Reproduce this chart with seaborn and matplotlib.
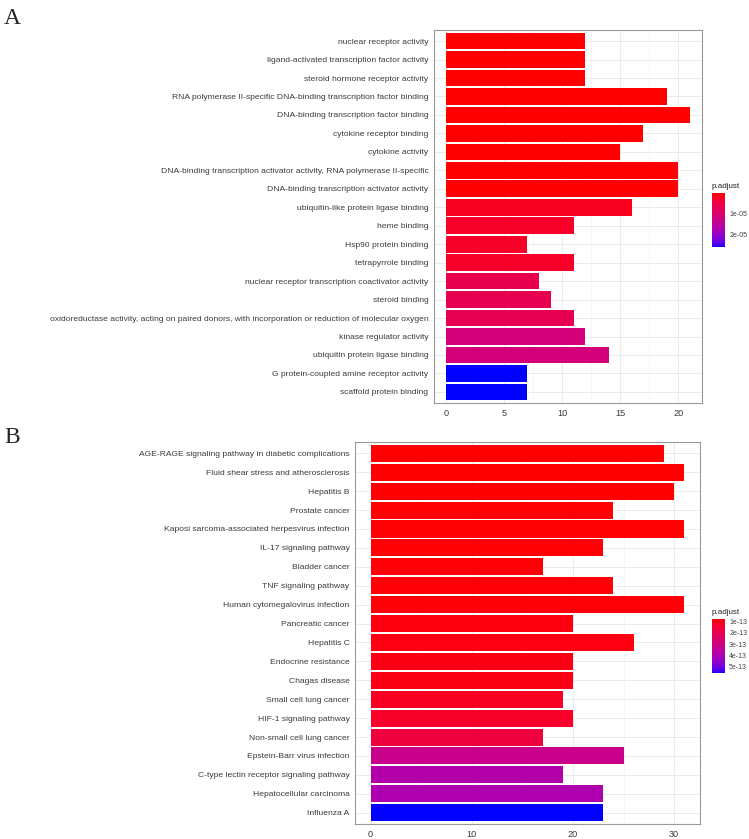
import matplotlib
matplotlib.use("Agg")
import matplotlib.pyplot as plt
import matplotlib.colors as mcolors
import matplotlib.cm as cm
from matplotlib.ticker import MultipleLocator
import seaborn as sns
import pandas as pd
import numpy as np

# GO terms (panel A)
go_terms = [
    "nuclear receptor activity",
    "ligand-activated transcription factor activity",
    "steroid hormone receptor activity",
    "RNA polymerase II-specific DNA-binding transcription factor binding",
    "DNA-binding transcription factor binding",
    "cytokine receptor binding",
    "cytokine activity",
    "DNA-binding transcription activator activity, RNA polymerase II-specific",
    "DNA-binding transcription activator activity",
    "ubiquitin-like protein ligase binding",
    "heme binding",
    "Hsp90 protein binding",
    "tetrapyrrole binding",
    "nuclear receptor transcription coactivator activity",
    "steroid binding",
    "oxidoreductase activity, acting on paired donors, with incorporation or reduction of molecular oxygen",
    "kinase regulator activity",
    "ubiquitin protein ligase binding",
    "G protein-coupled amine receptor activity",
    "scaffold protein binding",
]
go_count = [12, 12, 12, 19, 21, 17, 15, 20, 20, 16, 11, 7, 11, 8, 9, 11, 12, 14, 7, 7]
go_padj = [1.0e-8, 1.0e-8, 1.0e-8, 1.0e-8, 1.0e-8, 1.0e-8, 1.0e-8, 1.0e-8, 1.0e-8,
           1.8e-6, 2.6e-6, 2.6e-6, 2.6e-6, 6.5e-6, 6.6e-6, 6.8e-6, 1.12e-5, 1.12e-5,
           2.6e-5, 2.6e-5]

# KEGG pathways (panel B)
kegg_terms = [
    "AGE-RAGE signaling pathway in diabetic complications",
    "Fluid shear stress and atherosclerosis",
    "Hepatitis B",
    "Prostate cancer",
    "Kaposi sarcoma-associated herpesvirus infection",
    "IL-17 signaling pathway",
    "Bladder cancer",
    "TNF signaling pathway",
    "Human cytomegalovirus infection",
    "Pancreatic cancer",
    "Hepatitis C",
    "Endocrine resistance",
    "Chagas disease",
    "Small cell lung cancer",
    "HIF-1 signaling pathway",
    "Non-small cell lung cancer",
    "Epstein-Barr virus infection",
    "C-type lectin receptor signaling pathway",
    "Hepatocellular carcinoma",
    "Influenza A",
]
kegg_count = [29, 31, 30, 24, 31, 23, 17, 24, 31, 20, 26, 20, 20, 19, 20, 17, 25, 19, 23, 23]
kegg_padj = [7.3e-14, 7.3e-14, 7.4e-14, 7.5e-14, 7.5e-14, 7.6e-14, 7.7e-14, 7.8e-14, 7.9e-14,
             8.5e-14, 8.8e-14, 9.0e-14, 9.2e-14, 1.12e-13, 1.22e-13, 1.61e-13, 3.18e-13,
             3.9e-13, 3.97e-13, 5.63e-13]


# red -> blue gradient interpolated in Lab, like ggplot's scale_fill_continuous
def lab_to_rgb(L, a, b):
    fy = (L + 16) / 116
    fx = fy + a / 500
    fz = fy - b / 200

    def finv(t):
        return t ** 3 if t > 6 / 29 else 3 * (6 / 29) ** 2 * (t - 4 / 29)

    xyz = np.array([0.95047 * finv(fx), finv(fy), 1.08883 * finv(fz)])
    m = np.array([[3.2406, -1.5372, -0.4986],
                  [-0.9689, 1.8758, 0.0415],
                  [0.0557, -0.2040, 1.0570]])
    lin = m @ xyz
    rgb = np.where(lin > 0.0031308, 1.055 * np.abs(lin) ** (1 / 2.4) - 0.055, 12.92 * lin)
    return np.clip(rgb, 0, 1)


red_lab = np.array([53.24, 80.09, 67.20])
blue_lab = np.array([32.30, 79.19, -107.86])
grad = [lab_to_rgb(*(red_lab + t * (blue_lab - red_lab))) for t in np.linspace(0, 1, 256)]
cmap = mcolors.ListedColormap(grad)

sns.set_style("white")
plt.rcParams["font.family"] = ["Liberation Sans", "DejaVu Sans"]

fig = plt.figure(figsize=(7.49, 8.39), dpi=100)


def draw_panel(rect, terms, counts, padj, major, cbar_rect, ticks, ticklabels, title_y):
    ax = fig.add_axes(rect)
    df = pd.DataFrame({"term": terms, "count": counts, "p": padj})
    norm = mcolors.Normalize(vmin=min(padj), vmax=max(padj))
    sns.barplot(data=df, x="count", y="term", hue="p", palette=cmap, hue_norm=norm,
                dodge=False, legend=False, width=0.9, linewidth=0, saturation=1, ax=ax)
    xmax = max(counts)
    ax.set_xlim(-0.05 * xmax, xmax * 1.05)
    ax.set_ylim(len(terms) - 0.4, -0.6)
    ax.xaxis.set_major_locator(MultipleLocator(major))
    ax.xaxis.set_minor_locator(MultipleLocator(major / 2))
    ax.set_axisbelow(True)
    ax.grid(which="major", color="#EBEBEB", linewidth=0.7)
    ax.grid(which="minor", axis="x", color="#F3F3F3", linewidth=0.5)
    for s in ax.spines.values():
        s.set_visible(True)
        s.set_color("#9A9A9A")
        s.set_linewidth(0.8)
    ax.set_xlabel("")
    ax.set_ylabel("")
    ax.tick_params(axis="both", which="major", length=2.5, width=0.6, color="#555555",
                   labelcolor="#3A3A3A", pad=1.5)
    ax.tick_params(axis="y", labelsize=6.1)
    ax.tick_params(axis="x", labelsize=6.6, pad=1.5)
    ax.tick_params(which="minor", length=0)

    cax = fig.add_axes(cbar_rect)
    sm = cm.ScalarMappable(norm=norm, cmap=cmap)
    cb = fig.colorbar(sm, cax=cax)
    cb.outline.set_visible(False)
    cax.invert_yaxis()
    cb.set_ticks(ticks)
    cb.set_ticklabels(ticklabels)
    cax.tick_params(length=3, width=0.6, color="white", direction="in",
                    labelsize=5.0, labelcolor="#444444", pad=3, left=True, right=True)
    fig.text(cbar_rect[0], title_y, "p.adjust", fontsize=5.8, color="#222222",
             va="bottom", ha="left")
    return ax


H = 839.0
W = 749.0
draw_panel([434 / W, 1 - 403 / H, 268 / W, 373 / H], go_terms, go_count, go_padj, 5,
           [712 / W, 1 - 247 / H, 13 / W, 54 / H], [1e-5, 2e-5], ["1e-05", "2e-05"],
           1 - 190 / H)
draw_panel([355 / W, 1 - 824 / H, 345 / W, 382 / H], kegg_terms, kegg_count, kegg_padj, 10,
           [712 / W, 1 - 673 / H, 13 / W, 54 / H],
           [1e-13, 2e-13, 3e-13, 4e-13, 5e-13],
           ["1e-13", "2e-13", "3e-13", "4e-13", "5e-13"], 1 - 616 / H)

fig.text(4 / W, 1 - 24 / H, "A", family=["Liberation Serif", "DejaVu Serif"], fontsize=17)
fig.text(4 / W, 1 - 443 / H, "B", family=["Liberation Serif", "DejaVu Serif"], fontsize=17)

fig.savefig("out.png", dpi=100)
